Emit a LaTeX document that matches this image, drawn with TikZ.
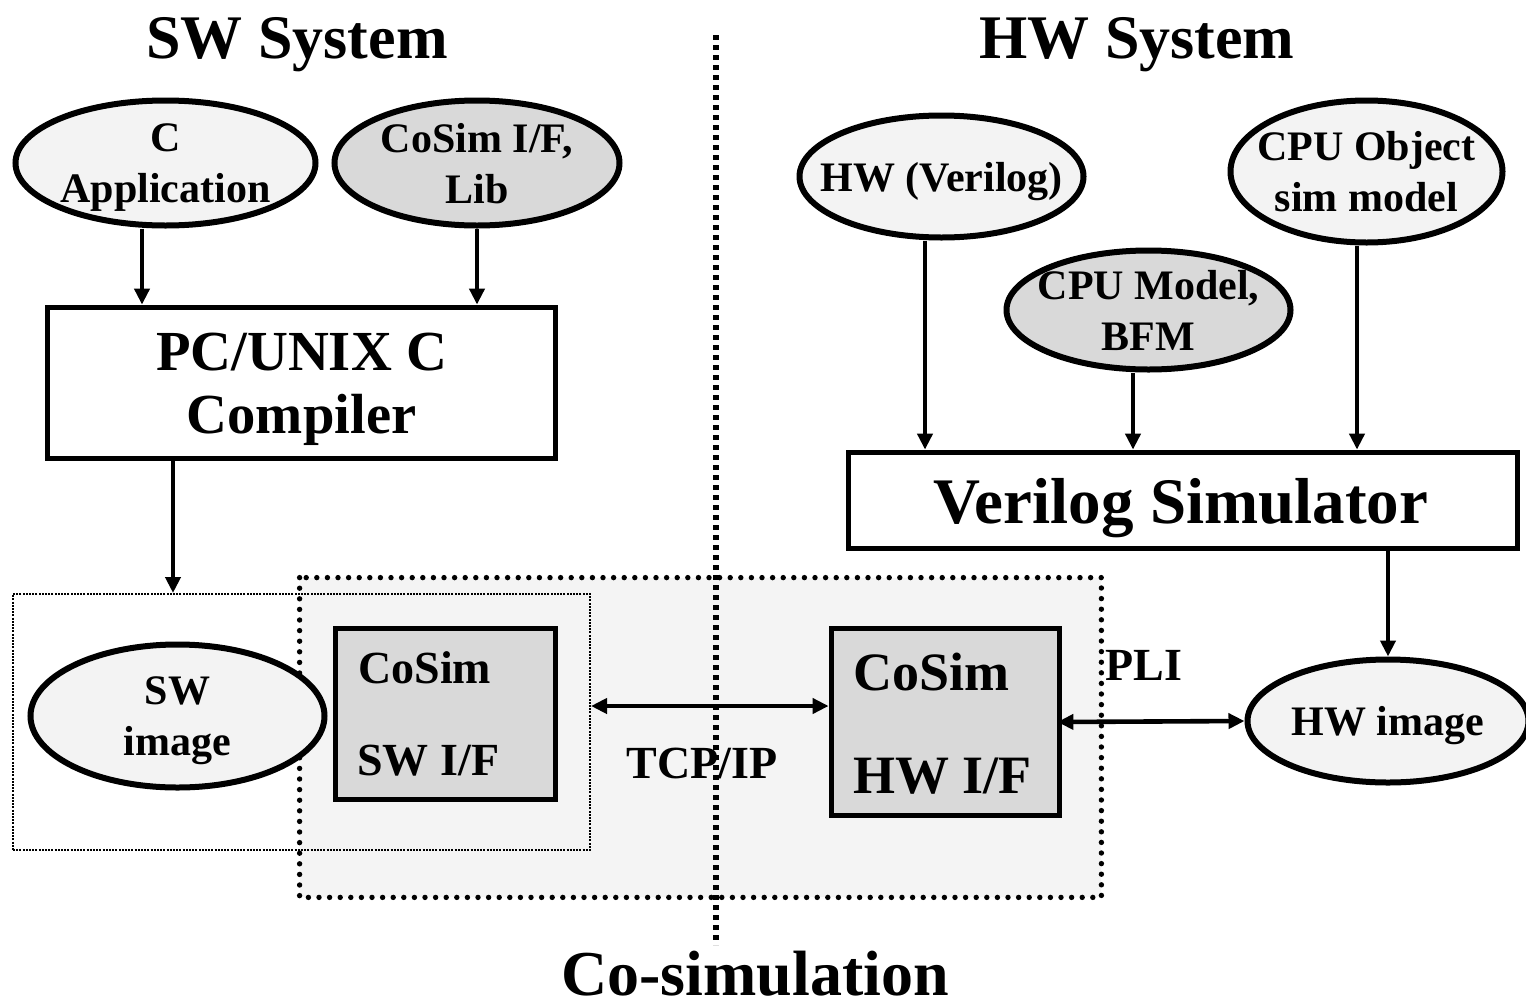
\documentclass[tikz,border=0pt]{standalone}
\usepackage{fontspec}
\setmainfont{Liberation Serif}
\usetikzlibrary{shapes.geometric,arrows.meta}
\definecolor{lightfill}{HTML}{F3F3F3}
\definecolor{darkfill}{HTML}{D9D9D9}
\definecolor{regionfill}{HTML}{F4F4F4}
\begin{document}
\begin{tikzpicture}[x=0.5pt,y=-0.5pt,
  oval/.style={ellipse, draw, line width=3pt, inner sep=-14pt, align=center, text depth=0pt,
    font=\bfseries\fontsize{21}{25.5}\selectfont},
  box/.style={rectangle, draw, line width=2.9pt, inner sep=0pt},
  lbl/.style={inner sep=0pt, anchor=base, font=\bfseries\fontsize{#1}{#1}\selectfont},
  lbl/.default=23,
  arr/.style={line width=2.3pt, -{Triangle[length=8pt,width=7.5pt]}},
  dbl/.style={line width=2.3pt, {Triangle[length=8pt,width=7.5pt]}-{Triangle[length=8pt,width=7.5pt]}},
]
\useasboundingbox (0,0) rectangle (1526,1007);

% co-simulation region and the SW image frame
\node[rectangle, fill=regionfill, minimum width=400.5pt, minimum height=159.5pt, inner sep=0pt] (region) at (700.5,737.5) {};
\node[rectangle, draw, line width=1pt, dash pattern=on 1pt off 0.6pt, minimum width=288.5pt, minimum height=128pt, inner sep=0pt] (swouter) at (301.5,722) {};
\draw[line width=2.7pt, dash pattern=on 0pt off 5.3pt, line cap=round] (region.north west) rectangle (region.south east);

% SW / HW divider
\coordinate (divtop) at (716,35);
\coordinate (divbot) at (716,945);
\draw[line width=2.6pt, dash pattern=on 2.5pt off 2.5pt] (divtop) -- (divbot);

% titles
\node[lbl=31] (swtitle) at (297,58) {SW System};
\node[lbl=31] (hwtitle) at (1137,58) {HW System};
\node[lbl=32] (cotitle) at (755,995) {Co-simulation};

% SW side
\node[oval, fill=lightfill, minimum width=150pt, minimum height=62.5pt] (capp) at (165.5,163) {C\\Application};
\node[oval, fill=darkfill, minimum width=142.5pt, minimum height=62.5pt] (cosimlib) at (477,163) {CoSim I/F,\\Lib};
\node[box, minimum width=254pt, minimum height=75.5pt, align=center, text depth=0pt,
  font=\bfseries\fontsize{28.3}{31.5}\selectfont] (cc) at (301.5,383) {PC/UNIX C\\Compiler};
\node[oval, fill=lightfill, minimum width=147pt, minimum height=71.5pt] (swimg) at (177.5,716) {SW\\image};
\node[box, fill=darkfill, minimum width=110pt, minimum height=85.5pt] (swif) at (445.5,714) {};
\node[lbl, anchor=base west] (swifa) at (358,683) {CoSim};
\node[lbl, anchor=base west] (swifb) at (357,775) {SW I/F};

% HW side
\node[oval, fill=lightfill, minimum width=142pt, minimum height=61pt] (hwv) at (941.5,176.5) {HW (Verilog)};
\node[oval, fill=darkfill, minimum width=142pt, minimum height=59.5pt] (cpumodel) at (1148.5,310) {CPU Model,\\BFM};
\node[oval, fill=lightfill, minimum width=136pt, minimum height=71pt] (cpuobj) at (1366.5,171.5) {CPU Object\\sim model};
\node[box, minimum width=334.5pt, minimum height=48pt] (vsim) at (1183,500.5) {};
\node[lbl=32.5] (vsimt) at (1181,523) {Verilog Simulator};
\node[box, fill=darkfill, minimum width=114pt, minimum height=93.5pt] (hwif) at (945.5,722) {};
\node[lbl=27, anchor=base west] (hwifa) at (853,690) {CoSim};
\node[lbl=27, anchor=base west] (hwifb) at (853,793) {HW I/F};
\node[oval, fill=lightfill, minimum width=140.5pt, minimum height=61.5pt] (hwimg) at (1388,721) {HW image};

% connector labels
\node[lbl] (tcp) at (702,778) {TCP/IP};
\node[lbl] (pli) at (1144,680) {PLI};

% connectors
\draw[arr] (capp.south -| 142,0) -- (cc.north -| 142,0);
\draw[arr] (cosimlib.south -| 477,0) -- (cc.north -| 477,0);
\draw[arr] (cc.south -| 173,0) -- (swouter.north -| 173,0);
\draw[arr] (hwv.south -| 925,0) -- (vsim.north -| 925,0);
\draw[arr] (cpumodel.south -| 1133,0) -- (vsim.north -| 1133,0);
\draw[arr] (cpuobj.south -| 1357,0) -- (vsim.north -| 1357,0);
\draw[arr] (vsim.south -| hwimg.north) -- (hwimg.north);
\draw[dbl] (swouter.east |- 0,706) -- (hwif.west |- 0,706);
\draw[dbl] ([xshift=-2.5pt]hwif.east) -- (hwimg.west);
\end{tikzpicture}
\end{document}
